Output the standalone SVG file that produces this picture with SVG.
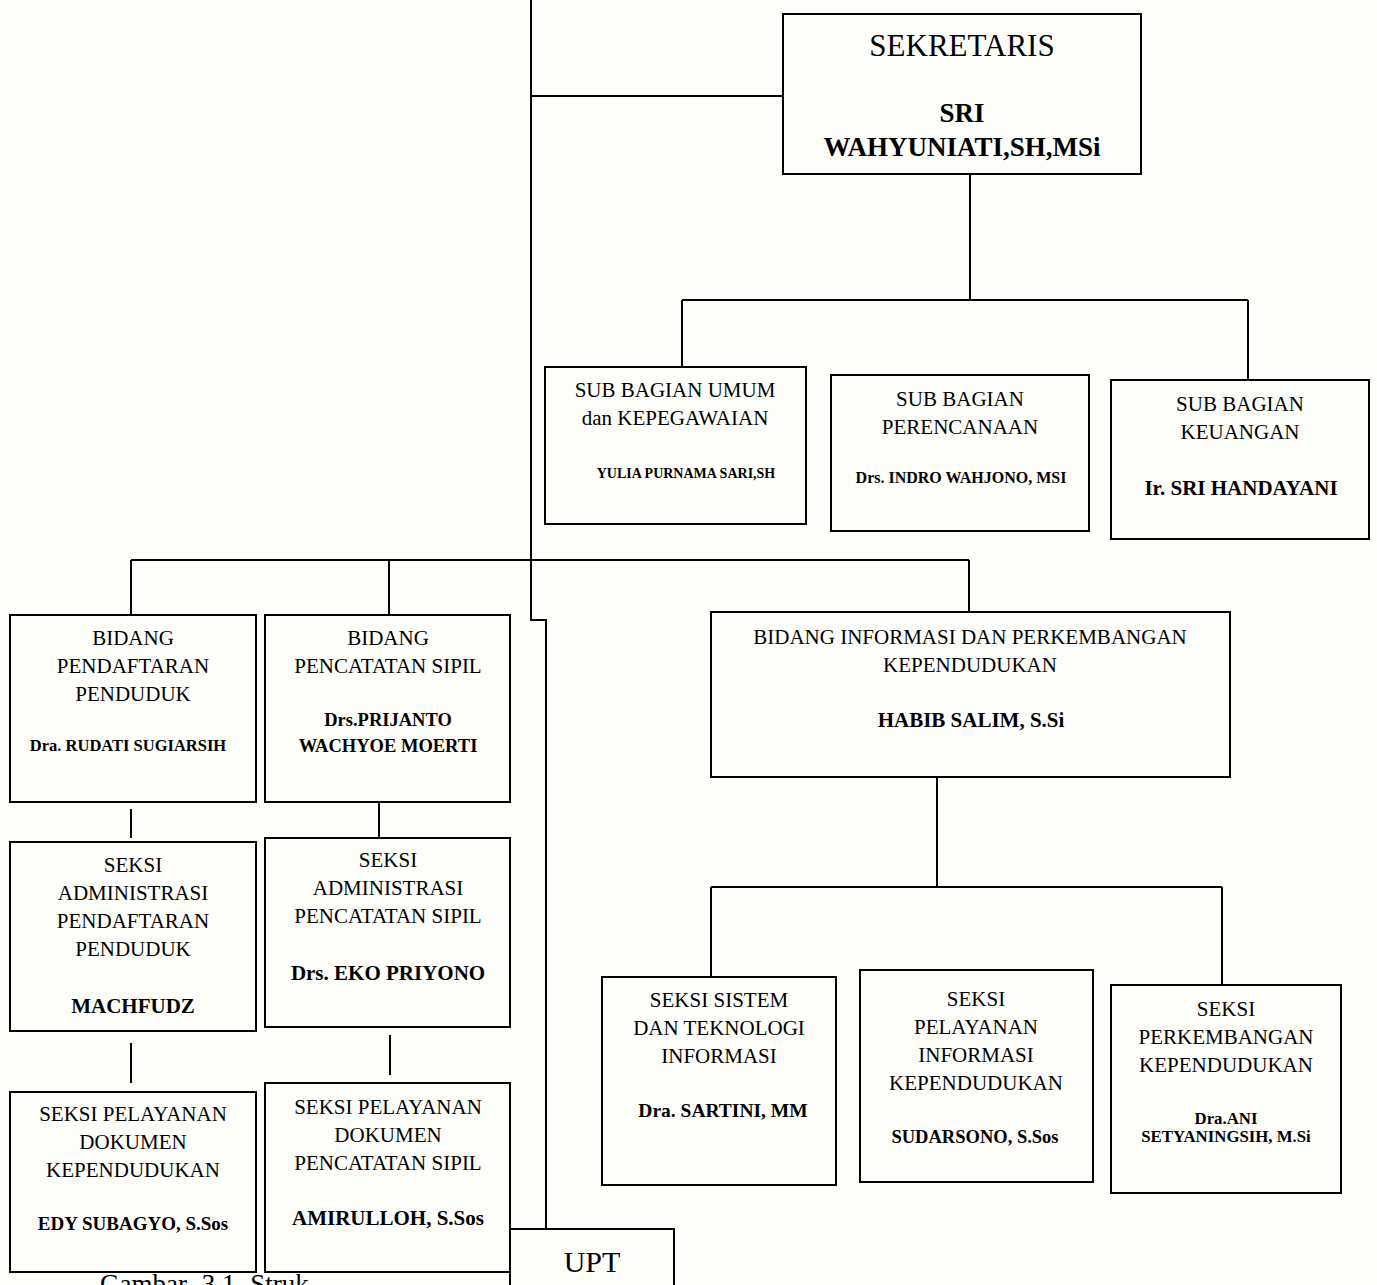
<svg xmlns="http://www.w3.org/2000/svg" width="1377" height="1285" viewBox="0 0 1377 1285">
<style>
.bx{fill:#fdfdfa;stroke:#000;stroke-width:2}
.ln{fill:none;stroke:#000;stroke-width:2}
text{font-family:"Liberation Serif","Times New Roman",serif;fill:#000;text-anchor:middle}
.r{font-size:21px}
.b{font-weight:bold}
</style>
<rect width="1377" height="1285" fill="#fdfdfa"/>
<g id="connectors">
<path class="ln" d="M531 0V620H546V1229"/>
<path class="ln" d="M531 96H783"/>
<path class="ln" d="M970 174V300M682 300H1248M682 300V367M1248 300V380"/>
<path class="ln" d="M131 560H969M131 560V615M389 560V615M969 560V612"/>
<path class="ln" d="M131 809V838M131 1043V1083"/>
<path class="ln" d="M379 802V842M390 1035V1075"/>
<path class="ln" d="M937 777V887M711 887H1222M711 887V977M1222 887V985"/>
</g>
<g id="sekretaris">
<rect class="bx" x="783" y="14" width="358" height="160"/>
<text x="962" y="56" style="font-size:31px">SEKRETARIS</text>
<text x="962" y="122" class="b" style="font-size:27px">SRI</text>
<text x="962" y="156" class="b" style="font-size:27px">WAHYUNIATI,SH,MSi</text>
</g>
<g id="sub-umum">
<rect class="bx" x="545" y="367" width="261" height="157"/>
<text x="675" y="397" class="r">SUB BAGIAN UMUM</text>
<text x="675" y="425" class="r">dan KEPEGAWAIAN</text>
<text x="686" y="478" class="b" style="font-size:14px">YULIA PURNAMA SARI,SH</text>
</g>
<g id="sub-perencanaan">
<rect class="bx" x="831" y="375" width="258" height="156"/>
<text x="960" y="406" class="r">SUB BAGIAN</text>
<text x="960" y="434" class="r">PERENCANAAN</text>
<text x="961" y="483" class="b" style="font-size:16px">Drs. INDRO WAHJONO, MSI</text>
</g>
<g id="sub-keuangan">
<rect class="bx" x="1111" y="380" width="258" height="159"/>
<text x="1240" y="411" class="r">SUB BAGIAN</text>
<text x="1240" y="439" class="r">KEUANGAN</text>
<text x="1241" y="495" class="b" style="font-size:21px">Ir. SRI HANDAYANI</text>
</g>
<g id="bidang-pendaftaran">
<rect class="bx" x="10" y="615" width="246" height="187"/>
<text x="133" y="645" class="r">BIDANG</text>
<text x="133" y="673" class="r">PENDAFTARAN</text>
<text x="133" y="701" class="r">PENDUDUK</text>
<text x="128" y="751" class="b" style="font-size:16.5px">Dra. RUDATI SUGIARSIH</text>
</g>
<g id="bidang-pencatatan">
<rect class="bx" x="265" y="615" width="245" height="187"/>
<text x="388" y="645" class="r">BIDANG</text>
<text x="388" y="673" class="r">PENCATATAN SIPIL</text>
<text x="388" y="726" class="b" style="font-size:18.5px">Drs.PRIJANTO</text>
<text x="388" y="752" class="b" style="font-size:18.5px">WACHYOE MOERTI</text>
</g>
<g id="bidang-informasi">
<rect class="bx" x="711" y="612" width="519" height="165"/>
<text x="970" y="644" class="r">BIDANG INFORMASI DAN PERKEMBANGAN</text>
<text x="970" y="672" class="r">KEPENDUDUKAN</text>
<text x="971" y="727" class="b" style="font-size:21px">HABIB SALIM, S.Si</text>
</g>
<g id="seksi-adm-pendaftaran">
<rect class="bx" x="10" y="842" width="246" height="189"/>
<text x="133" y="872" class="r">SEKSI</text>
<text x="133" y="900" class="r">ADMINISTRASI</text>
<text x="133" y="928" class="r">PENDAFTARAN</text>
<text x="133" y="956" class="r">PENDUDUK</text>
<text x="133" y="1013" class="b" style="font-size:21px">MACHFUDZ</text>
</g>
<g id="seksi-adm-pencatatan">
<rect class="bx" x="265" y="838" width="245" height="189"/>
<text x="388" y="867" class="r">SEKSI</text>
<text x="388" y="895" class="r">ADMINISTRASI</text>
<text x="388" y="923" class="r">PENCATATAN SIPIL</text>
<text x="388" y="980" class="b" style="font-size:21px">Drs. EKO PRIYONO</text>
</g>
<g id="seksi-pelayanan-kependudukan">
<rect class="bx" x="10" y="1092" width="246" height="180"/>
<text x="133" y="1121" class="r">SEKSI PELAYANAN</text>
<text x="133" y="1149" class="r">DOKUMEN</text>
<text x="133" y="1177" class="r">KEPENDUDUKAN</text>
<text x="133" y="1230" class="b" style="font-size:19px">EDY SUBAGYO, S.Sos</text>
</g>
<g id="seksi-pelayanan-pencatatan">
<rect class="bx" x="265" y="1083" width="245" height="189"/>
<text x="388" y="1114" class="r">SEKSI PELAYANAN</text>
<text x="388" y="1142" class="r">DOKUMEN</text>
<text x="388" y="1170" class="r">PENCATATAN SIPIL</text>
<text x="388" y="1225" class="b" style="font-size:21px">AMIRULLOH, S.Sos</text>
</g>
<g id="seksi-sistem">
<rect class="bx" x="602" y="977" width="234" height="208"/>
<text x="719" y="1007" class="r">SEKSI SISTEM</text>
<text x="719" y="1035" class="r">DAN TEKNOLOGI</text>
<text x="719" y="1063" class="r">INFORMASI</text>
<text x="723" y="1117" class="b" style="font-size:19.5px">Dra. SARTINI, MM</text>
</g>
<g id="seksi-pelayanan-informasi">
<rect class="bx" x="860" y="970" width="233" height="212"/>
<text x="976" y="1006" class="r">SEKSI</text>
<text x="976" y="1034" class="r">PELAYANAN</text>
<text x="976" y="1062" class="r">INFORMASI</text>
<text x="976" y="1090" class="r">KEPENDUDUKAN</text>
<text x="975" y="1143" class="b" style="font-size:18.5px">SUDARSONO, S.Sos</text>
</g>
<g id="seksi-perkembangan">
<rect class="bx" x="1111" y="985" width="230" height="208"/>
<text x="1226" y="1016" class="r">SEKSI</text>
<text x="1226" y="1044" class="r">PERKEMBANGAN</text>
<text x="1226" y="1072" class="r">KEPENDUDUKAN</text>
<text x="1226" y="1124" class="b" style="font-size:16.8px">Dra.ANI</text>
<text x="1226" y="1142" class="b" style="font-size:16.8px">SETYANINGSIH, M.Si</text>
</g>
<g id="upt">
<rect class="bx" x="510" y="1229" width="164" height="70"/>
<text x="592" y="1272" style="font-size:30px">UPT</text>
</g>
<text x="100" y="1293" style="font-size:27px;text-anchor:start;word-spacing:8px">Gambar 3.1 Struk</text>
</svg>
